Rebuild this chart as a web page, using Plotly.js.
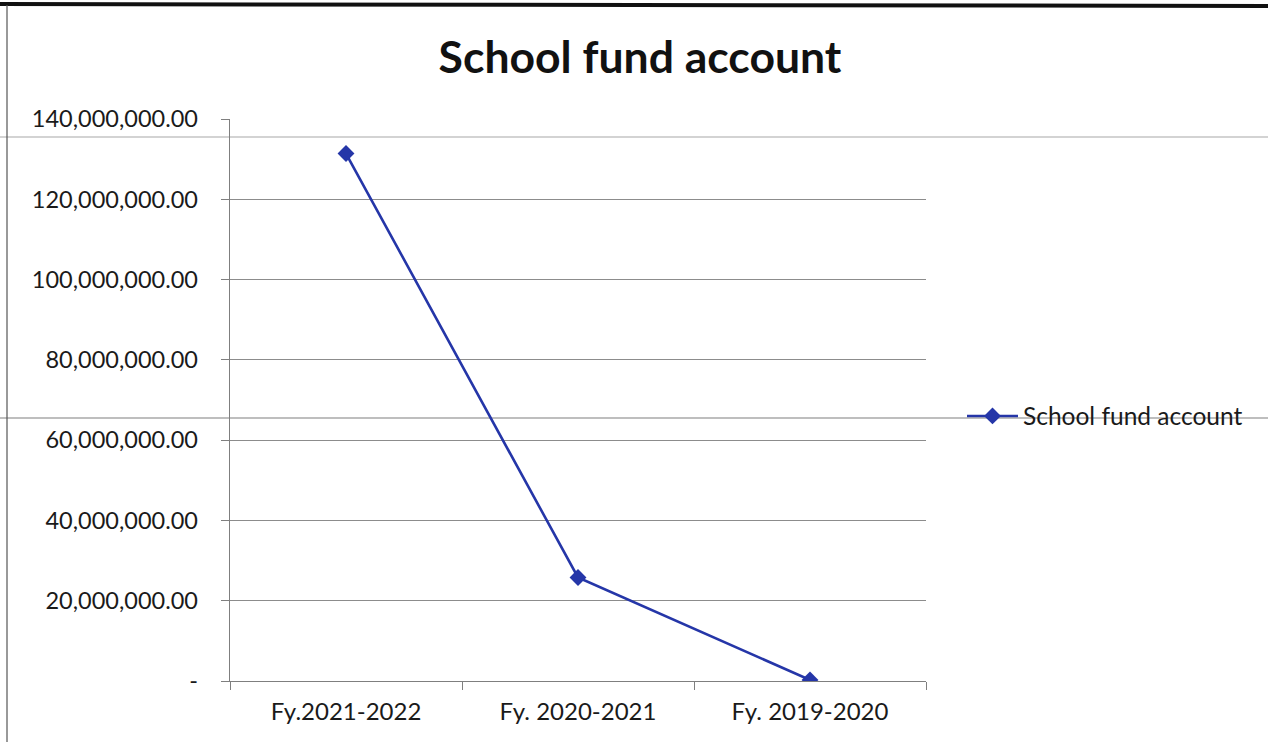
<!DOCTYPE html>
<html>
<head>
<meta charset="utf-8">
<script src="https://cdn.plot.ly/plotly-3.0.1.min.js"></script>
<style>html,body{margin:0;padding:0;background:#fff;}#chart{width:1268px;height:742px;}</style>
</head>
<body>
<div id="chart"></div>
<script>
const categories = ["Fy.2021-2022", "Fy. 2020-2021", "Fy. 2019-2020"];
const schoolFund = [131400000, 25800000, 250000];
const seriesName = "School fund account";
const yTickVals = [0, 20000000, 40000000, 60000000, 80000000, 100000000, 120000000, 140000000];
const yTickText = ["-", "20,000,000.00", "40,000,000.00", "60,000,000.00", "80,000,000.00", "100,000,000.00", "120,000,000.00", "140,000,000.00"];

const FONT = "Lato, 'Open Sans', sans-serif";
const BLUE = "#2536a8";
const AX = "#7f7f7f";

// pixel helpers for decorative frame (plot area 230..926 x 119..681)
const px = x => (x - 230) / 696;
const py = y => (681 - y) / 562;

const trace = {
  x: categories, y: schoolFund, type: "scatter", mode: "lines+markers",
  name: seriesName,
  line: {color: BLUE, width: 2.6},
  marker: {symbol: "diamond", size: 13, color: BLUE}
};

const layout = {
  width: 1268, height: 742, autosize: false,
  paper_bgcolor: "#ffffff", plot_bgcolor: "#ffffff",
  margin: {l: 230, r: 342, t: 119, b: 61, pad: 0},
  font: {family: FONT, color: "#1a1a1a", size: 22},
  title: {text: "<b>School fund account</b>", font: {family: FONT, size: 44.5, color: "#111"},
          x: 640/1268, xref: "container", xanchor: "center", y: 1 - 57/742, yref: "container", yanchor: "middle"},
  xaxis: {
    type: "category", range: [-0.5, 2.5], tickson: "boundaries",
    ticks: "outside", ticklen: 8, tickcolor: AX, tickwidth: 1,
    showline: true, linecolor: AX, linewidth: 1.3,
    showgrid: false, zeroline: false,
    ticklabelstandoff: 9,
    tickfont: {family: FONT, size: 24, color: "#1a1a1a"}
  },
  yaxis: {
    range: [0, 140000000], tickvals: yTickVals, ticktext: yTickText, tickmode: "array",
    ticks: "outside", ticklen: 8, tickcolor: AX, tickwidth: 1,
    showline: true, linecolor: AX, linewidth: 1.3,
    showgrid: true, gridcolor: "#8c8c8c", gridwidth: 1, zeroline: false,
    ticklabelstandoff: 18,
    tickfont: {family: FONT, size: 23.5, color: "#1a1a1a"}
  },
  showlegend: true,
  legend: {x: px(962), xanchor: "left", y: py(416), yanchor: "middle",
           font: {family: FONT, size: 24.5, color: "#1a1a1a"}, bgcolor: "rgba(0,0,0,0)",
           borderwidth: 0, itemwidth: 51},
  shapes: [
    {type: "line", xref: "paper", yref: "paper", x0: px(0), x1: px(1268), y0: py(4), y1: py(6),
     line: {color: "#111", width: 4}},
    {type: "line", xref: "paper", yref: "paper", x0: px(7), x1: px(7), y0: py(5), y1: py(742),
     line: {color: "#555", width: 1.2}},
    {type: "line", xref: "paper", yref: "paper", x0: px(0), x1: px(1268), y0: py(137), y1: py(137),
     line: {color: "#c4c4c4", width: 1.5}, layer: "below"},
    {type: "line", xref: "paper", yref: "paper", x0: px(0), x1: px(1268), y0: py(418), y1: py(418),
     line: {color: "#a8a8a8", width: 1.5}, layer: "below"}
  ]
};

Plotly.newPlot("chart", [trace], layout, {displayModeBar: false, staticPlot: true});
</script>
</body>
</html>
